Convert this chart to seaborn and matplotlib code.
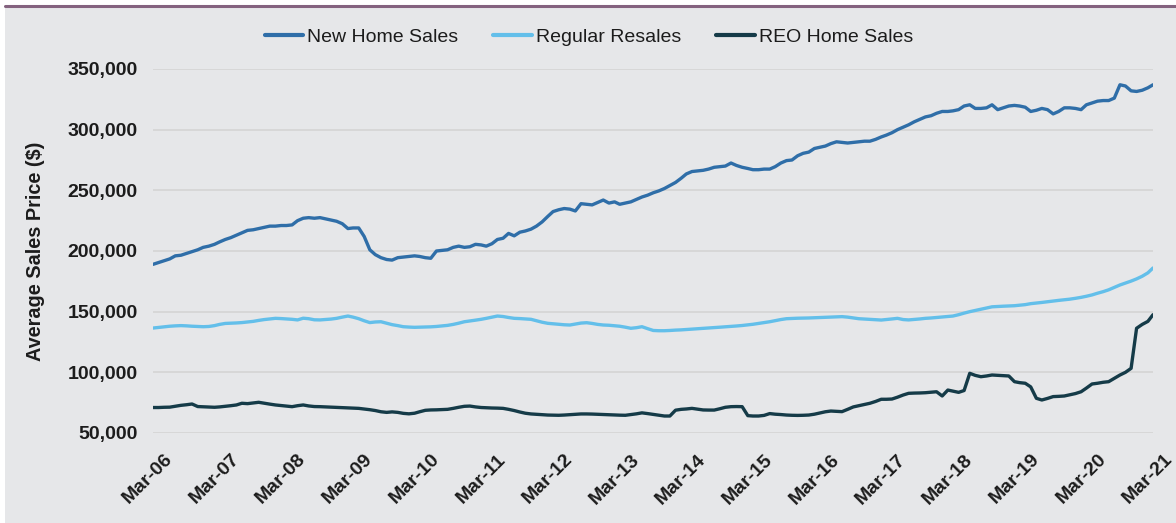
import numpy as np
import pandas as pd
import matplotlib
matplotlib.use("Agg")
import matplotlib.pyplot as plt
import matplotlib.dates as mdates
from matplotlib.ticker import FuncFormatter
from matplotlib.patches import Rectangle
from matplotlib.lines import Line2D
from matplotlib.transforms import ScaledTranslation
import seaborn as sns

# Monthly average sales price, Mar-2006 .. Mar-2021 (thousands of dollars)
months = pd.date_range("2006-03-01", "2021-03-01", freq="MS")

new_home_sales = [
    189, 190.5, 192, 193.5, 196, 196.5, 198, 199.5, 201, 203, 204, 205.5,
    207.5, 209.5, 211, 213, 215, 217, 217.5, 218.5, 219.5, 220.5, 220.5, 221,
    221, 221.5, 225, 227, 227.5, 227, 227.5, 226.5, 225.5, 224.5, 222.5, 218.5,
    219, 219, 212, 201, 197, 194.5, 193, 192.5, 194.5, 195, 195.5, 196,
    195.5, 194.5, 194, 200, 200.5, 201, 203, 204, 203, 203.5, 205.5, 205,
    204, 206, 209.5, 210.5, 214.5, 212.5, 215.5, 216.5, 218, 220.5, 224, 228.5,
    232.5, 234, 235, 234.5, 233, 239, 238.5, 238, 240, 242, 239.5, 240.5,
    238.5, 239.5, 240.5, 242.5, 244.5, 246, 248, 249.5, 251.5, 254, 256.5, 260,
    263.5, 265.5, 266, 266.5, 267.5, 269, 269.5, 270, 272.5, 270.5, 269, 268,
    267, 267, 267.5, 267.5, 269.5, 272.5, 274.5, 275, 278.5, 280.5, 281.5, 284.5,
    285.5, 286.5, 288.5, 290, 289.5, 289, 289.5, 290, 290.5, 290.5, 292, 294,
    295.5, 297.5, 300, 302, 304, 306.5, 308.5, 310.5, 311.5, 313.5, 315, 315,
    315.5, 316.5, 319.5, 320.5, 317.5, 317.5, 318, 320.5, 316.5, 318, 319.5, 320,
    319.5, 318.5, 315, 316, 317.5, 316.5, 313, 315, 318, 318, 317.5, 316.5,
    320.5, 322, 323.5, 324, 324, 326, 337, 336, 332, 331.5, 332.5, 334.5, 337,
]

regular_resales = [
    136.5, 137, 137.5, 138, 138.3, 138.5, 138.3, 138, 137.8, 137.6, 137.8, 138.5,
    139.5, 140.3, 140.5, 140.7, 141, 141.5, 142, 142.8, 143.5, 144, 144.5, 144.3,
    144, 143.7, 143.2, 144.6, 144.2, 143.3, 143.2, 143.5, 143.9, 144.5, 145.5, 146.4,
    145.5, 144.2, 142.5, 141, 141.5, 141.7, 140.5, 139.3, 138.5, 137.6, 137.3, 137.1,
    137.2, 137.3, 137.5, 137.8, 138.2, 138.7, 139.5, 140.5, 141.7, 142.3, 143, 143.7,
    144.5, 145.5, 146.4, 146, 145.2, 144.5, 144.3, 144, 143.7, 142.5, 141.3, 140.4,
    140, 139.6, 139.2, 139, 139.8, 140.6, 140.9, 140.3, 139.5, 139, 138.8, 138.4,
    138, 137.2, 136.3, 136.8, 137.6, 136, 134.5, 134.3, 134.3, 134.5, 134.8, 135,
    135.3, 135.6, 135.9, 136.3, 136.6, 136.9, 137.2, 137.5, 137.8, 138.2, 138.6, 139.1,
    139.6, 140.3, 141, 141.7, 142.6, 143.5, 144.2, 144.4, 144.6, 144.7, 144.8, 145,
    145.2, 145.4, 145.6, 145.8, 145.9, 145.5, 144.8, 144.2, 143.9, 143.6, 143.4, 143.1,
    143.5, 144, 144.5, 143.5, 143.2, 143.6, 144, 144.5, 144.8, 145.2, 145.6, 146,
    146.4, 147.5, 148.8, 150, 151, 152, 153, 154, 154.3, 154.5, 154.7, 154.9,
    155.3, 155.8, 156.6, 157.1, 157.6, 158.2, 158.8, 159.3, 159.8, 160.3, 161, 161.8,
    162.7, 163.8, 165.2, 166.5, 168, 170, 172, 173.6, 175.2, 177, 179.2, 182, 186,
]

reo_home_sales = [
    71, 71, 71.2, 71.3, 72, 72.8, 73.3, 73.9, 71.8, 71.6, 71.4, 71.2,
    71.5, 72, 72.5, 73.1, 74.5, 74.2, 74.8, 75.3, 74.5, 73.8, 73.1, 72.6,
    72.2, 71.7, 72.5, 73.1, 72.3, 71.8, 71.7, 71.5, 71.3, 71.1, 70.9, 70.7,
    70.5, 70.3, 69.8, 69.2, 68.5, 67.5, 67, 67.4, 67, 66.2, 65.8, 66.3,
    67.5, 68.7, 69, 69.1, 69.3, 69.5, 70.3, 71.2, 72, 72.2, 71.5, 71,
    70.8, 70.6, 70.5, 70.3, 69.5, 68.5, 67.3, 66.3, 65.7, 65.4, 65.1, 64.8,
    64.7, 64.6, 64.8, 65.1, 65.4, 65.7, 65.7, 65.6, 65.4, 65.2, 65, 64.8,
    64.7, 64.6, 65.2, 65.8, 66.6, 66, 65.3, 64.6, 64, 64, 68.8, 69.5,
    69.8, 70.3, 69.7, 69, 68.9, 68.9, 70, 71.2, 71.7, 71.8, 71.7, 64.3,
    64, 64, 64.5, 66, 65.5, 65.2, 64.8, 64.6, 64.5, 64.6, 64.8, 65.5,
    66.5, 67.5, 68.1, 67.8, 67.6, 69.5, 71.5, 72.5, 73.5, 74.5, 76, 77.8,
    77.8, 78, 79.5, 81.3, 82.7, 82.9, 83, 83.2, 83.6, 84, 80.5, 85.4,
    84.5, 83.5, 85, 99.2, 97.5, 96.4, 97, 97.8, 97.5, 97.2, 97, 92.3,
    91.5, 91, 88, 78.6, 77.2, 78.5, 80, 80.2, 80.5, 81.5, 82.5, 84,
    87, 90.4, 91, 91.8, 92.3, 95, 97.8, 100, 103.3, 136.3, 139.5, 142, 147.5,
]

series_names = ["New Home Sales", "Regular Resales", "REO Home Sales"]
series_colors = ["#2f6ea8", "#63bfea", "#153b48"]
y_ticks = [50000, 100000, 150000, 200000, 250000, 300000, 350000]

frames = []
for name, vals in zip(series_names, [new_home_sales, regular_resales, reo_home_sales]):
    frames.append(pd.DataFrame({"date": months,
                                "price": np.asarray(vals) * 1000.0,
                                "series": name}))
df = pd.concat(frames, ignore_index=True)

sns.set_theme(style="white")
plt.rcParams["font.family"] = ["Liberation Sans", "DejaVu Sans"]

W, H = 1176, 523
fig = plt.figure(figsize=(W / 100, H / 100), dpi=100, facecolor="white")

# panel background and the thin rule across the top
fig.patches.append(Rectangle((5 / W, 0), 1 - 5 / W, 1 - 8 / H,
                             transform=fig.transFigure, facecolor="#e6e7e9",
                             edgecolor="none", zorder=-10))
fig.lines.append(Line2D([5 / W, 1], [1 - 6 / H, 1 - 6 / H],
                        transform=fig.transFigure, color="#84627f", lw=2.2,
                        zorder=-5))

ax = fig.add_axes([153 / W, 1 - 433 / H, 1000 / W, 364 / H])
ax.set_facecolor("none")

sns.lineplot(data=df, x="date", y="price", hue="series",
             hue_order=series_names, palette=series_colors,
             linewidth=2.4, ax=ax, legend=False, zorder=3)

ax.set_ylim(50000, 350000)
ax.set_xlim(months[0], months[-1])
ax.set_yticks(y_ticks)
ax.yaxis.set_major_formatter(FuncFormatter(lambda v, p: f"{int(v):,}"))
ax.xaxis.set_major_locator(mdates.MonthLocator(bymonth=3))
ax.xaxis.set_major_formatter(mdates.DateFormatter("%b-%y"))

ax.grid(axis="y", color="#d6d6d6", linewidth=1.3, zorder=0)
ax.grid(axis="x", visible=False)
for s in ax.spines.values():
    s.set_visible(False)
ax.tick_params(axis="both", length=0, labelsize=14, labelcolor="#1c1c1c")
ax.tick_params(axis="y", pad=11)
for lab in ax.get_yticklabels():
    lab.set_fontweight("bold")
for lab in ax.get_xticklabels():
    lab.set_fontweight("bold")
    lab.set_rotation(45)
    lab.set_ha("right")
    lab.set_va("center")
    lab.set_rotation_mode("anchor")
    lab.set_transform(lab.get_transform() + ScaledTranslation(17 / 100, -19 / 100, fig.dpi_scale_trans))

ax.set_xlabel("")
ax.set_ylabel("Average Sales Price ($)", fontsize=14.3, fontweight="bold",
              color="#1c1c1c", labelpad=16)

handles = [Line2D([], [], color=c, lw=3) for c in series_colors]
fig.legend(handles, series_names, loc="center", bbox_to_anchor=(589 / W, 1 - 37 / H),
           ncol=3, frameon=False, fontsize=14, handlelength=2.0,
           handletextpad=0.2, columnspacing=1.8, labelcolor="#1c1c1c")

fig.savefig("out.png", dpi=100, facecolor="white")
